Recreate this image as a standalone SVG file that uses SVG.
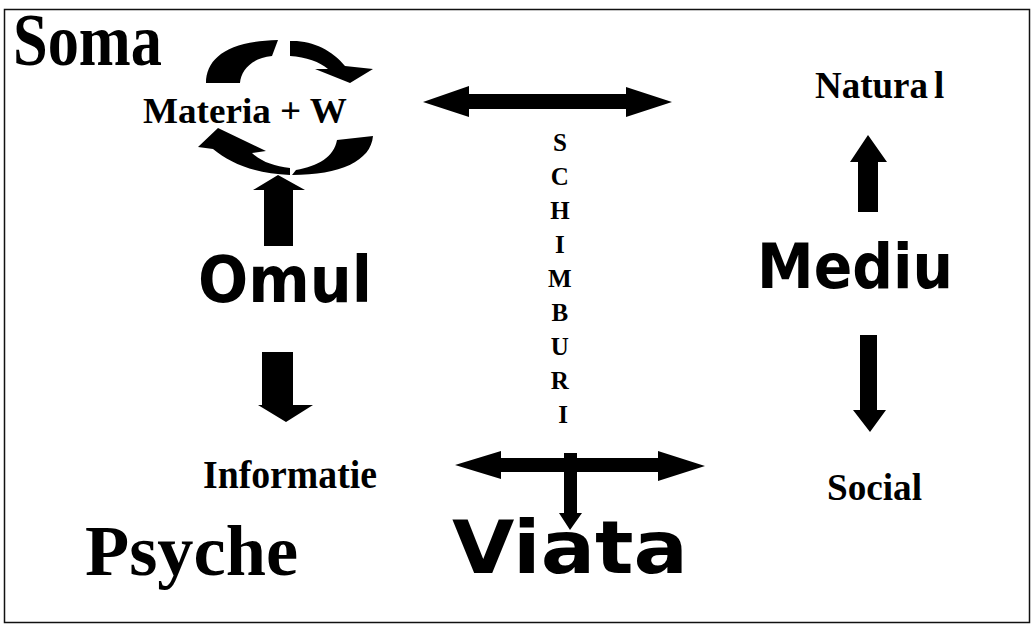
<svg xmlns="http://www.w3.org/2000/svg" width="1036" height="625" viewBox="0 0 1036 625">
  <style>
    .serif { font-family: "Liberation Serif", "Times New Roman", serif; font-weight: bold; fill: #000; }
    .sans { font-family: "DejaVu Sans", Verdana, sans-serif; font-weight: bold; fill: #000; }
    .arrow { fill: #000; stroke: none; }
    .frame { fill: #fff; stroke: #111; stroke-width: 1.5; }
  </style>

  <!-- page frame -->
  <rect class="frame" x="4.5" y="9.5" width="1025" height="613"/>

  <!-- nodes -->
  <g id="soma">
    <text class="serif" x="13" y="65" font-size="74" textLength="149" lengthAdjust="spacingAndGlyphs">Soma</text>
  </g>
  <g id="materia">
    <text class="serif" x="143" y="123" font-size="36" textLength="204" lengthAdjust="spacingAndGlyphs">Materia + W</text>
  </g>
  <g id="omul">
    <text class="sans" x="198" y="302" font-size="64" textLength="174" lengthAdjust="spacingAndGlyphs">Omul</text>
  </g>
  <g id="informatie">
    <text class="serif" x="203" y="488" font-size="40" textLength="174" lengthAdjust="spacingAndGlyphs">Informatie</text>
  </g>
  <g id="psyche">
    <text class="serif" x="85" y="575" font-size="72" textLength="213" lengthAdjust="spacingAndGlyphs">Psyche</text>
  </g>
  <g id="schimburi">
    <text class="serif" font-size="25" text-anchor="middle">
      <tspan x="563" y="151">S</tspan>
      <tspan x="563" y="185">C</tspan>
      <tspan x="563" y="219">H</tspan>
      <tspan x="563" y="253">I</tspan>
      <tspan x="563" y="287">M</tspan>
      <tspan x="563" y="321">B</tspan>
      <tspan x="563" y="355">U</tspan>
      <tspan x="563" y="389">R</tspan>
      <tspan x="563" y="423">I</tspan>
    </text>
  </g>
  <g id="viata">
    <text class="sans" x="452" y="573" font-size="73" textLength="236" lengthAdjust="spacingAndGlyphs">Viata</text>
  </g>
  <g id="natural">
    <text class="serif" x="815" y="98" font-size="37">Natura<tspan dx="6">l</tspan></text>
  </g>
  <g id="mediu">
    <text class="sans" x="757" y="288" font-size="63" textLength="196" lengthAdjust="spacingAndGlyphs">Mediu</text>
  </g>
  <g id="social">
    <text class="serif" x="827" y="500" font-size="38" textLength="95" lengthAdjust="spacingAndGlyphs">Social</text>
  </g>

  <!-- connectors -->
  <g id="connectors">
    <!-- cycle around Materia + W: upper arrow (tail crescent + headed part) -->
    <path class="arrow" d="M206,83 C206,58 228,41 278,40 L272,56 C252,58 241,70 240,83 Z"/>
    <path class="arrow" d="M290,41 C312,40 332,50 345,66 L373,69 L350,83 L315,69 L328,69 C320,62 306,57 290,56 Z"/>
    <!-- cycle around Materia + W: lower arrow (tail crescent + headed part) -->
    <path class="arrow" d="M337,140 L373,136 C371,161 340,175 292,175 L296,170 C318,166 334,157 337,140 Z"/>
    <path class="arrow" d="M198,147 L218,128 L266,151 L252,153 C262,162 274,166 290,168 L290,175 C255,174 230,163 213,149 Z"/>

    <!-- Omul up to the cycle -->
    <path class="arrow" d="M264,246 L264,190 L253,190 L278,175 L305,190 L293,190 L293,246 Z"/>
    <!-- Omul down to Informatie -->
    <path class="arrow" d="M262,352 L293,352 L293,405 L313,405 L286,422 L258,405 L262,405 Z"/>

    <!-- exchange with the environment (top) -->
    <path class="arrow" d="M423,102 L469,86 L469,94 L626,94 L626,87 L672,102 L626,117 L626,109 L469,109 L469,117 Z"/>

    <!-- exchange (bottom) -->
    <path class="arrow" d="M455,465 L501,451 L501,458 L658,458 L658,451 L705,466 L658,481 L658,472 L501,472 L501,479 Z"/>
    <!-- down into Viata -->
    <path class="arrow" stroke="#fff" stroke-width="2" d="M564,453 L577,453 L577,513 L582,513 L570,530 L559,513 L564,513 Z"/>

    <!-- Mediu up to Natural -->
    <path class="arrow" d="M858,212 L858,162 L850,162 L868,135 L887,162 L878,162 L878,212 Z"/>
    <!-- Mediu down to Social -->
    <path class="arrow" d="M860,335 L877,335 L877,410 L886,410 L870,432 L853,410 L860,410 Z"/>
  </g>
</svg>
